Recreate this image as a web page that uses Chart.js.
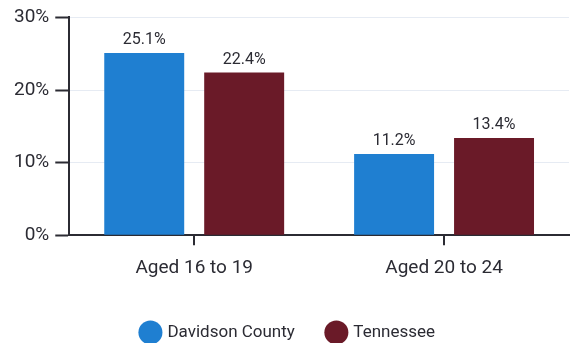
<!DOCTYPE html>
<html>
<head>
    <title>Youth by Age Group</title>
    <script src="https://cdn.jsdelivr.net/npm/chart.js"></script>
    <style>
        body { margin: 0; background: #fff; }
        .chart-box { width: 571px; height: 343px; }
    </style>
</head>
<body>
    <div class="chart-box"><canvas id="ageChart"></canvas></div>

    <script>
        const categories = ['Aged 16 to 19', 'Aged 20 to 24'];
        const davidsonValues = [25.1, 11.2];
        const tennesseeValues = [22.4, 13.4];
        const yTicks = [0, 10, 20, 30];

        const inkColor = '#2b2b33';

        // draws the value above each bar
        const valueLabels = {
            id: 'valueLabels',
            afterDatasetsDraw(chart) {
                const ctx = chart.ctx;
                ctx.save();
                ctx.font = '16px Roboto';
                ctx.fillStyle = inkColor;
                ctx.textAlign = 'center';
                ctx.textBaseline = 'bottom';
                chart.data.datasets.forEach((ds, i) => {
                    chart.getDatasetMeta(i).data.forEach((bar, j) => {
                        ctx.fillText(ds.data[j].toFixed(1) + '%', bar.x, bar.y - 5);
                    });
                });
                ctx.restore();
            }
        };

        // pull the legend a bit closer to the bottom edge
        const tightLegend = {
            id: 'tightLegend',
            beforeInit(chart) {
                const fit = chart.legend.fit;
                chart.legend.fit = function () {
                    fit.call(this);
                    this.height -= 8;
                };
            }
        };

        new Chart(document.getElementById('ageChart'), {
            type: 'bar',
            data: {
                labels: categories,
                datasets: [
                    { label: 'Davidson County', data: davidsonValues, backgroundColor: '#1f7fd1', barPercentage: 0.8 },
                    { label: 'Tennessee', data: tennesseeValues, backgroundColor: '#6a1a28', barPercentage: 0.8 }
                ]
            },
            options: {
                responsive: true,
                maintainAspectRatio: false,
                animation: false,
                layout: { padding: { top: 5, right: 2, left: 8, bottom: 0 } },
                plugins: {
                    tooltip: { enabled: false },
                    legend: {
                        position: 'bottom',
                        labels: {
                            usePointStyle: true,
                            pointStyle: 'circle',
                            boxWidth: 18,
                            boxHeight: 18,
                            padding: 33,
                            color: inkColor,
                            font: { family: 'Roboto', size: 17 }
                        }
                    }
                },
                scales: {
                    x: {
                        afterFit(axis) { axis.height -= 1; },
                        border: { display: true, color: inkColor, width: 2 },
                        grid: { offset: false, drawOnChartArea: false, color: inkColor, lineWidth: 2, tickLength: 10 },
                        ticks: { color: inkColor, padding: 12, font: { family: 'Roboto', size: 19 } }
                    },
                    y: {
                        min: 0,
                        max: 30,
                        afterBuildTicks(axis) { axis.ticks = yTicks.map(v => ({ value: v })); },
                        border: { display: true, color: inkColor, width: 2 },
                        grid: { color: '#e6ebf3', lineWidth: 1, borderDash: [3, 3], tickColor: inkColor, tickWidth: 2, tickLength: 14 },
                        ticks: {
                            color: inkColor,
                            padding: 6,
                            font: { family: 'Roboto', size: 19 },
                            callback: v => v + '%'
                        }
                    }
                }
            },
            plugins: [tightLegend, valueLabels]
        });
    </script>
</body>
</html>
